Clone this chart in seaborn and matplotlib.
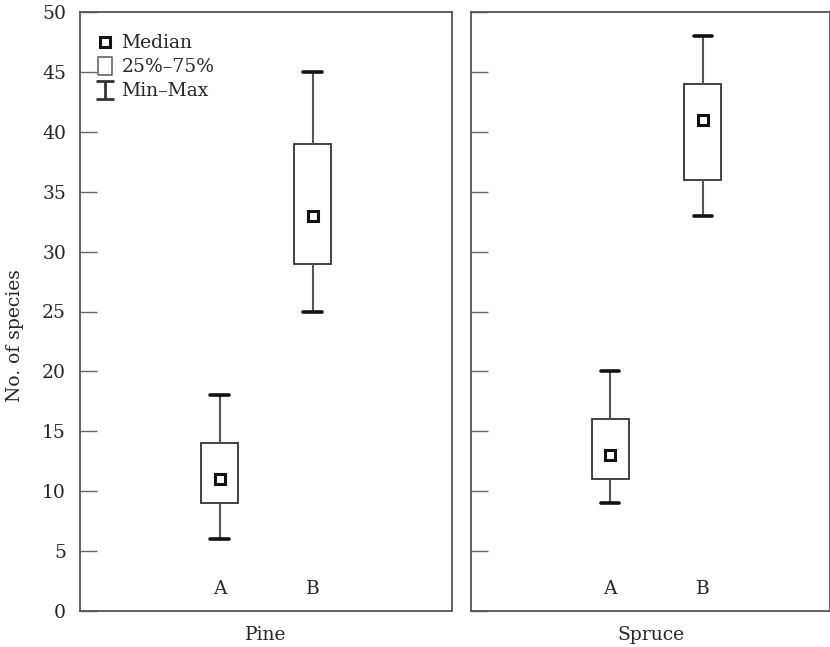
import pandas as pd
import seaborn as sns
import matplotlib.pyplot as plt
from matplotlib.lines import Line2D
from matplotlib.path import Path

groups = ['A', 'B']
stands = ['Pine', 'Spruce']

# five-number summaries (min, q1, median, q3, max)
pine_min = [6, 25]
pine_q1 = [9, 29]
pine_med = [11, 33]
pine_q3 = [14, 39]
pine_max = [18, 45]

spruce_min = [9, 33]
spruce_q1 = [11, 36]
spruce_med = [13, 41]
spruce_q3 = [16, 44]
spruce_max = [20, 48]

yticks = list(range(0, 51, 5))

summ = {'Pine': [pine_min, pine_q1, pine_med, pine_q3, pine_max],
        'Spruce': [spruce_min, spruce_q1, spruce_med, spruce_q3, spruce_max]}

# five values per group -> quartiles of these are exactly q1/median/q3
rows = []
for stand, cols in summ.items():
    for i, g in enumerate(groups):
        for c in cols:
            rows.append({'stand': stand, 'group': g, 'n': c[i]})
df = pd.DataFrame(rows)

sns.set_style('white')
plt.rcParams['font.family'] = ['DejaVu Serif']
plt.rcParams['font.size'] = 13.5

fig = plt.figure(figsize=(8.3, 6.47), dpi=100)
ax1 = fig.add_axes([80 / 830, 1 - 611 / 647, 372 / 830, 599 / 647])
ax2 = fig.add_axes([471 / 830, 1 - 611 / 647, 359 / 830, 599 / 647])

for ax, stand, xmax in [(ax1, 'Pine', 2.5), (ax2, 'Spruce', 2.37)]:
    sub = df[df['stand'] == stand]
    sns.boxplot(data=sub, x='group', y='n', order=groups, whis=(0, 100),
                width=0.4, color='white', linecolor='#333', linewidth=1.3,
                showfliers=False, medianprops={'visible': False},
                whiskerprops={'color': '#555', 'linewidth': 1.5},
                capprops={'color': '#111', 'linewidth': 2.6}, ax=ax)
    ax.plot(range(len(groups)), summ[stand][2], ls='none', marker='s', ms=7,
            mfc='white', mec='#111', mew=2.2, zorder=5)
    ax.set_ylim(0, 50)
    ax.set_yticks(yticks)
    ax.set_xlim(-1.5, xmax)
    ax.tick_params(axis='y', left=True, direction='in', length=12, width=1,
                   color='#666', pad=10)
    ax.tick_params(axis='x', bottom=False, length=0, pad=-22)
    ax.set_xlabel(stand, labelpad=11)
    ax.set_ylabel('')
    for s in ax.spines.values():
        s.set_color('#555')
        s.set_linewidth(1.3)

ax2.tick_params(axis='y', labelleft=False)
ax1.set_ylabel('No. of species')
ax1.yaxis.set_label_coords(-0.15, 0.46)

# legend handles
box_path = Path([(-0.7, -1), (0.7, -1), (0.7, 1), (-0.7, 1), (-0.7, -1)])
cap_path = Path([(-1, 1), (1, 1), (0, 1), (0, -1), (-1, -1), (1, -1)],
                [Path.MOVETO, Path.LINETO, Path.MOVETO, Path.LINETO,
                 Path.MOVETO, Path.LINETO])
handles = [
    Line2D([], [], ls='none', marker='s', ms=6.5, mfc='white', mec='#111', mew=2.2),
    Line2D([], [], ls='none', marker=box_path, ms=13.5, mfc='white', mec='#666', mew=1.2),
    Line2D([], [], ls='none', marker=cap_path, ms=13.5, mfc='none', mec='#333', mew=2),
]
ax1.legend(handles, ['Median', '25%–75%', 'Min–Max'], loc='upper left',
           bbox_to_anchor=(0.036, 0.963), frameon=False, borderaxespad=0,
           borderpad=0, handlelength=1.2, handletextpad=0.3, labelspacing=0.32)

fig.savefig('out.png', dpi=100)
